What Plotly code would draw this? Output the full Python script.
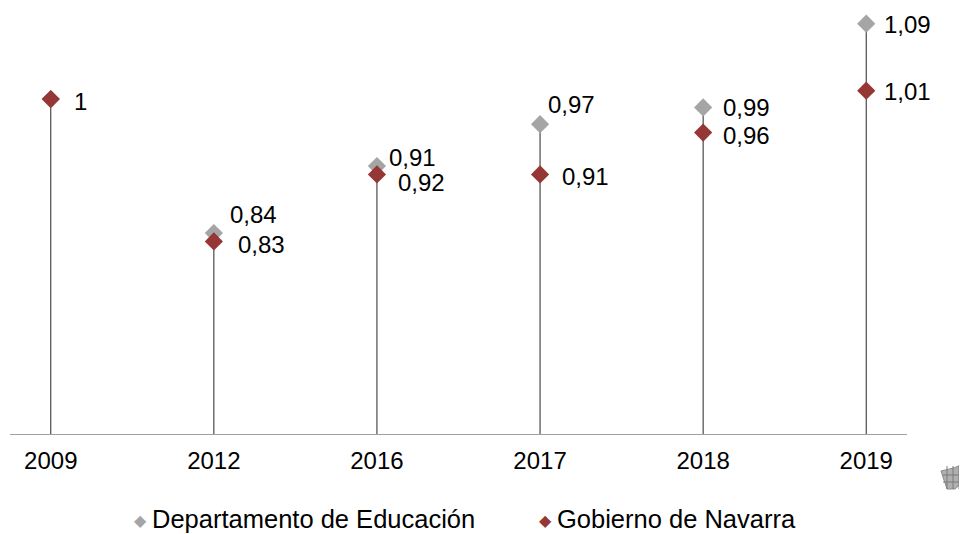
import plotly.graph_objects as go

years = ["2009", "2012", "2016", "2017", "2018", "2019"]
dept_values = [1.00, 0.84, 0.92, 0.97, 0.99, 1.09]
gov_values = [1.00, 0.83, 0.91, 0.91, 0.96, 1.01]
dept_labels = [None, "0,84", "0,91", "0,97", "0,99", "1,09"]
gov_labels = ["1", "0,83", "0,92", "0,91", "0,96", "1,01"]
series_names = ["Departamento de Educación", "Gobierno de Navarra"]

# label offsets in pixels (right, down) — manual placements
dept_offsets = [(0, 0), (15, -19), (11, -9), (7, -20), (19, 0), (17, 1)]
gov_offsets = [(22, 2), (23, 3), (20, 8), (21, 2), (19, 3), (17, 1)]

GRAY = "#a5a5a5"
RED = "#953735"
FONT = "Liberation Sans, Arial, sans-serif"
YMIN, YMAX = 0.6, 1.104

# page body has an 8px default margin; target plot area in page pixels
OFF = 8
L, R, T, B = 10, 907, 12, 434
W, H = 967 - OFF, 534 - OFF

def px(xp, yp):
    return (xp - L) / (R - L), (B - yp) / (B - T)

xs = list(range(len(years)))
fig = go.Figure()

# drop lines
lx, ly = [], []
for i, (a, b) in enumerate(zip(dept_values, gov_values)):
    lx += [i, i, None]
    ly += [YMIN, max(a, b), None]
fig.add_trace(go.Scatter(x=lx, y=ly, mode="lines", line=dict(color="#262626", width=1),
                         showlegend=False, hoverinfo="skip"))

fig.add_trace(go.Scatter(x=xs, y=dept_values, mode="markers", name=series_names[0],
                         marker=dict(symbol="diamond", size=14, color=GRAY), showlegend=False))
fig.add_trace(go.Scatter(x=xs, y=gov_values, mode="markers", name=series_names[1],
                         marker=dict(symbol="diamond", size=14, color=RED), showlegend=False))

annotations = []
for vals, labs, offs in ((dept_values, dept_labels, dept_offsets), (gov_values, gov_labels, gov_offsets)):
    for i, (v, t, (dx, dy)) in enumerate(zip(vals, labs, offs)):
        if t is None:
            continue
        annotations.append(dict(x=i, y=v, xref="x", yref="y", text=t, showarrow=False,
                                xanchor="left", yanchor="middle", xshift=dx, yshift=-dy,
                                borderpad=0,
                                font=dict(family=FONT, size=24, color="#000000")))

# legend drawn as annotations
legend_y = 519
for name, color, mx, tx in ((series_names[0], GRAY, 140, 151), (series_names[1], RED, 545, 556)):
    gx, gy = px(mx, legend_y + 1)
    annotations.append(dict(x=gx, y=gy, xref="paper", yref="paper", text="◆", showarrow=False,
                            xanchor="center", yanchor="middle", borderpad=0,
                            font=dict(family="DejaVu Sans", size=16, color=color)))
    ax_, ay_ = px(tx, legend_y)
    annotations.append(dict(x=ax_, y=ay_, xref="paper", yref="paper", text=name, showarrow=False,
                            xanchor="left", yanchor="middle", borderpad=0,
                            font=dict(family=FONT, size=25.5, color="#000000")))

# small hatched decoration at bottom right
pts = [(941, 471), (955, 469), (967, 462), (967, 478), (955, 489), (947, 489)]
pp = [px(a, b) for a, b in pts]
path = "M{},{} Q{},{} {},{} L{},{} L{},{} L{},{} Z".format(
    pp[0][0], pp[0][1], pp[1][0], pp[1][1], pp[2][0], pp[2][1], pp[3][0], pp[3][1],
    pp[4][0], pp[4][1], pp[5][0], pp[5][1])
shapes = [dict(type="path", xref="paper", yref="paper", path=path,
               fillcolor="#b0b0b0", line=dict(color="#8a8a8a", width=1))]
for hx in (947, 953, 959):
    a0, b0 = px(hx, 466)
    a1, b1 = px(hx, 489)
    shapes.append(dict(type="line", xref="paper", yref="paper", x0=a0, y0=b0, x1=a1, y1=b1,
                       line=dict(color="#7a7a7a", width=1)))
for hy in (475, 482):
    a0, b0 = px(943, hy)
    a1, b1 = px(966, hy)
    shapes.append(dict(type="line", xref="paper", yref="paper", x0=a0, y0=b0, x1=a1, y1=b1,
                       line=dict(color="#7a7a7a", width=1)))

fig.update_layout(
    width=W, height=H,
    margin=dict(l=L - OFF, r=W - (R - OFF), t=T - OFF, b=H - (B - OFF), autoexpand=False),
    paper_bgcolor="white", plot_bgcolor="white",
    font=dict(family=FONT, color="#000000"),
    xaxis=dict(range=[-0.25, 5.25], tickvals=xs, ticktext=years, showgrid=False, zeroline=False,
               showline=True, linecolor="#a0a0a0", linewidth=1, ticks="",
               tickfont=dict(family=FONT, size=24, color="#000000"), ticklabelstandoff=5),
    yaxis=dict(range=[YMIN, YMAX], visible=False, showgrid=False, zeroline=False),
    annotations=annotations,
    shapes=shapes,
    showlegend=False,
)

fig.write_html("out.html")
